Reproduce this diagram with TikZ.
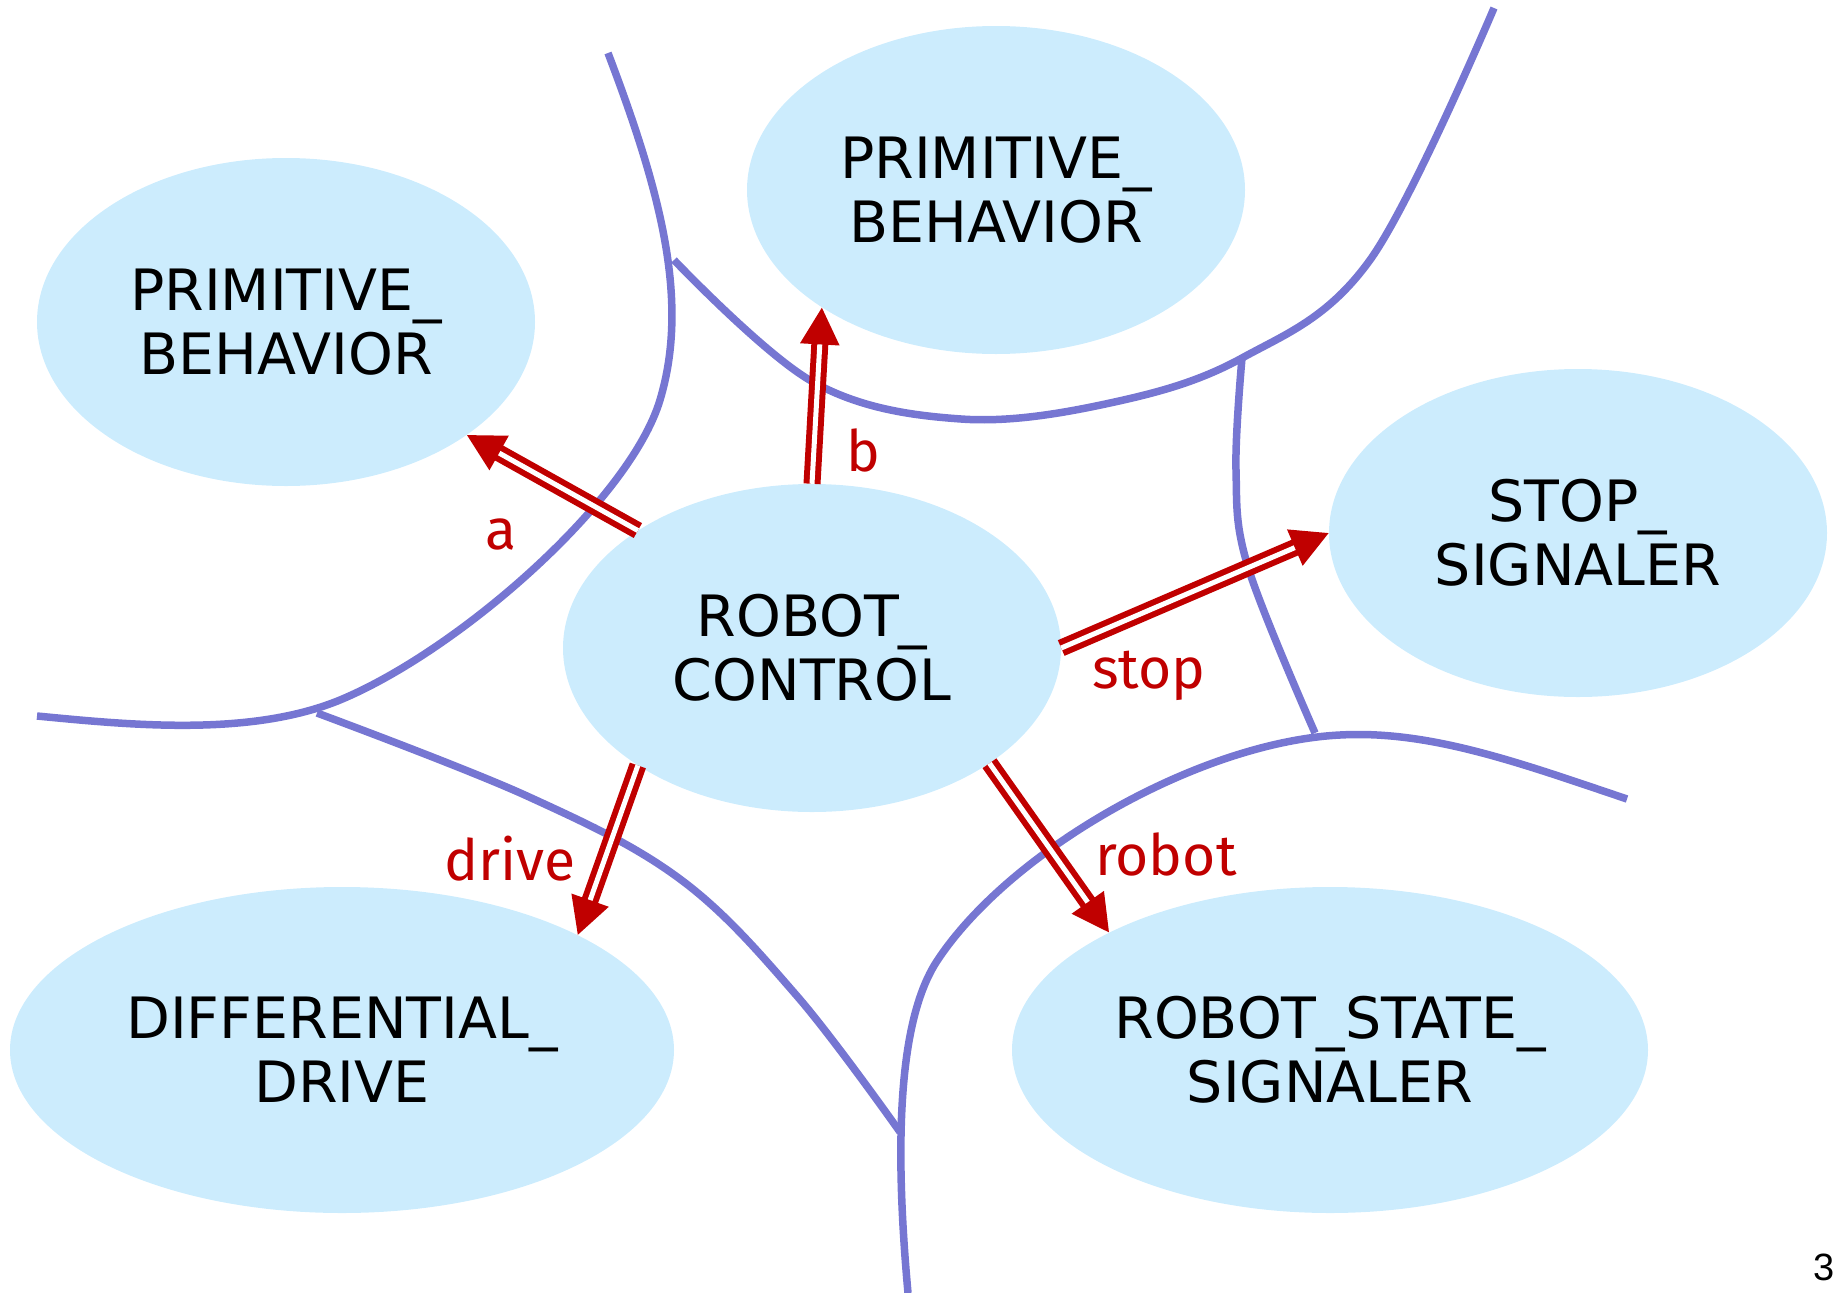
\documentclass[tikz,border=0pt]{standalone}
\usepackage{fontspec}
\setmainfont{Fira Sans}
\newfontfamily\boxfont{DejaVu Sans}
\newfontfamily\pagefont{Liberation Sans}
\usetikzlibrary{shapes.geometric,arrows.meta}
\definecolor{ellfill}{RGB}{204,236,253}
\definecolor{bndblue}{RGB}{118,118,210}
\definecolor{arrred}{RGB}{192,0,0}
\tikzset{
  comp/.style={ellipse, fill=ellfill, inner sep=0pt, minimum width=498pt, minimum height=328pt,
    align=center, font=\boxfont\fontsize{57}{64}\selectfont},
  bnd/.style={draw=bndblue, line width=7.5pt},
  conn/.style={draw=arrred, line width=6pt, double=white, double distance=5pt,
    -{Triangle[length=37pt,width=38pt]}},
  lbl/.style={text=arrred, font=\fontsize{57}{64}\selectfont, inner sep=0pt}
}
\begin{document}
\begin{tikzpicture}[x=1pt,y=-1pt]
\useasboundingbox (0,0) rectangle (1837,1293);
% ellipses
\node[comp] (pbl) at (286,322) {PRIMITIVE\_\\BEHAVIOR};
\node[comp] (pbt) at (996,190) {PRIMITIVE\_\\BEHAVIOR};
\node[comp] (ss) at (1578,533) {STOP\_\\SIGNALER};
\node[comp] (rc) at (812,648) {ROBOT\_\\CONTROL};
\node[comp, minimum width=664pt, minimum height=326pt] (dd) at (342,1050) {DIFFERENTIAL\_\\DRIVE};
\node[comp, minimum width=636pt, minimum height=326pt] (rss) at (1330,1050) {ROBOT\_STATE\_\\SIGNALER};
% boundary curves
\draw[bnd] (608,53) .. controls (660,190) and (690,300) .. (660,400)
  .. controls (630,500) and (460,650) .. (340,700)
  .. controls (250,737) and (130,725) .. (37,716);
\draw[bnd] plot[smooth, tension=0.6] coordinates {(674,260) (813,382) (961,419) (1110,403) (1242,358) (1370,260) (1494,8)};
\draw[bnd] plot[smooth, tension=0.6] coordinates {(1242,358) (1236,470) (1248,567) (1315,733)};
\draw[bnd] (1627,799) .. controls (1520,763) and (1430,730) .. (1340,735)
  .. controls (1200,742) and (1010,850) .. (937,961)
  .. controls (897,1022) and (895,1150) .. (908,1293);
\draw[bnd] plot[smooth, tension=0.6] coordinates {(317,713) (527,796) (680,879) (797,996) (900,1132)};
% connectors
\draw[conn] (rc.146.8) -- (pbl.-32.9);
\draw[conn] (rc.90) -- (pbt.-146.2);
\draw[conn] (rc.0) -- (ss.180);
\draw[conn] (rc.-146.6) -- (dd.26.2);
\draw[conn] (rc.-33.1) -- (rss.152.8);
% labels
\node[lbl] (la) at (501,534) {a};
\node[lbl] (lb) at (863,450) {b};
\node[lbl] (lstop) at (1149,676) {stop};
\node[lbl] (ldrive) at (510,859) {drive};
\node[lbl] (lrobot) at (1166,854) {robot};
\node[anchor=west, inner sep=0pt, font=\pagefont\fontsize{38}{40}\selectfont] (pg) at (1813,1267) {3};
\end{tikzpicture}
\end{document}
